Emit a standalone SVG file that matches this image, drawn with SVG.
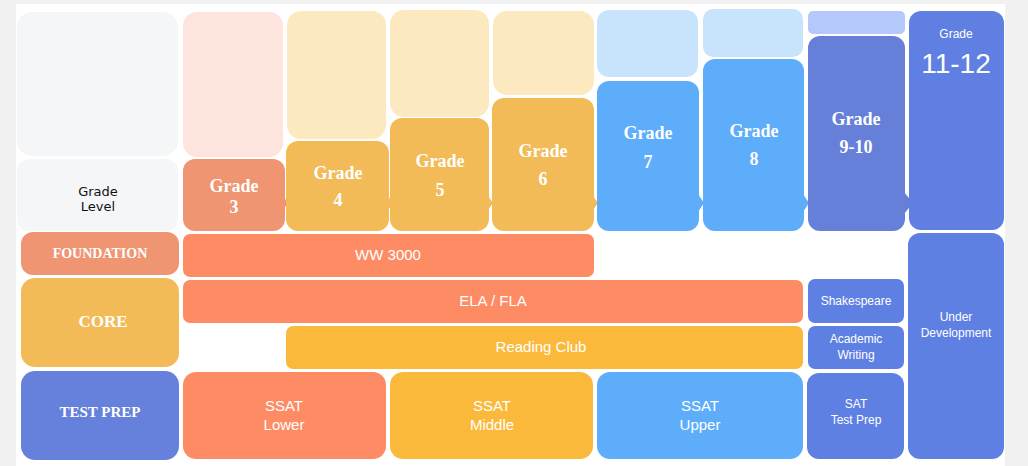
<svg xmlns="http://www.w3.org/2000/svg" width="1028" height="466" viewBox="0 0 1028 466">
<style>
.serif{font-family:"Liberation Serif","Times New Roman",serif;font-weight:bold;fill:#fff;text-anchor:middle}
.sans{font-family:"Liberation Sans",Arial,sans-serif;fill:#fff;text-anchor:middle}
.gl{font-family:"DejaVu Sans","Liberation Sans",sans-serif;fill:#111;text-anchor:middle;font-size:13px}
.g{font-size:18px}
.lbl{font-size:15px}
.sm{font-size:12px}
.cat{font-size:14px}
</style>
<rect x="0" y="0" width="1028" height="466" fill="#f1f1f1"/>
<rect x="16" y="4" width="989" height="462" fill="#ffffff"/>

<g id="grade-level">
<rect x="17" y="12" width="161" height="144" rx="15" fill="#f5f6f8"/>
<rect x="17" y="159" width="161" height="72" rx="12" fill="#f5f6f8"/>
<text class="gl" x="98" y="196">Grade</text>
<text class="gl" x="98" y="211">Level</text>
</g>

<g id="grade-3">
<rect x="183" y="12" width="100" height="145" rx="14" fill="#fde4dc"/>
<rect x="183" y="159" width="102" height="72" rx="12" fill="#f09572"/>
<polygon points="284,198 289,203 284,208" fill="#f09572"/>
<text class="serif g" x="234" y="192">Grade</text>
<text class="serif g" x="234" y="213">3</text>
</g>

<g id="grade-4">
<rect x="287" y="11" width="99" height="128" rx="14" fill="#fde9c0"/>
<rect x="286" y="141" width="103" height="90" rx="12" fill="#f2bb58"/>
<polygon points="388,196 393,203 388,210" fill="#f2bb58"/>
<text class="serif g" x="338" y="179">Grade</text>
<text class="serif g" x="338" y="206">4</text>
</g>

<g id="grade-5">
<rect x="390" y="10" width="99" height="107" rx="14" fill="#fde9c0"/>
<rect x="390" y="118" width="99" height="113" rx="12" fill="#f2bb58"/>
<polygon points="488,196 493,203 488,210" fill="#f2bb58"/>
<text class="serif g" x="440" y="167">Grade</text>
<text class="serif g" x="440" y="196">5</text>
</g>

<g id="grade-6">
<rect x="493" y="11" width="101" height="84" rx="14" fill="#fde9c0"/>
<rect x="492" y="98" width="102" height="133" rx="12" fill="#f2bb58"/>
<polygon points="593,196 598,203 593,210" fill="#f2bb58"/>
<text class="serif g" x="543" y="157">Grade</text>
<text class="serif g" x="543" y="185">6</text>
</g>

<g id="grade-7">
<rect x="597" y="10" width="101" height="67" rx="12" fill="#c8e3fc"/>
<rect x="597" y="81" width="102" height="150" rx="12" fill="#5eadfa"/>
<polygon points="698,194 704,203 698,212" fill="#5eadfa"/>
<text class="serif g" x="648" y="139">Grade</text>
<text class="serif g" x="648" y="168">7</text>
</g>

<g id="grade-8">
<rect x="703" y="9" width="100" height="48" rx="10" fill="#c8e3fc"/>
<rect x="703" y="59" width="101" height="172" rx="12" fill="#5eadfa"/>
<polygon points="803,194 809,203 803,212" fill="#5eadfa"/>
<text class="serif g" x="754" y="137">Grade</text>
<text class="serif g" x="754" y="165">8</text>
</g>

<g id="grade-9-10">
<rect x="808" y="11" width="97" height="23" rx="5" fill="#b4c8fb"/>
<rect x="808" y="36" width="97" height="195" rx="12" fill="#6680da"/>
<polygon points="904,192 913,203 904,214" fill="#6680da"/>
<text class="serif g" x="856" y="125">Grade</text>
<text class="serif g" x="856" y="153">9-10</text>
</g>

<g id="grade-11-12">
<rect x="909" y="11" width="95" height="219" rx="12" fill="#5f7fe2"/>
<text class="sans" x="956" y="38" font-size="12">Grade</text>
<text class="sans" x="956" y="73" font-size="28">11-12</text>
</g>

<g id="foundation">
<rect x="21" y="232" width="158" height="43" rx="12" fill="#f09572"/>
<text class="serif cat" x="100" y="258">FOUNDATION</text>
</g>

<g id="core">
<rect x="21" y="278" width="158" height="89" rx="14" fill="#f2bb58"/>
<text class="serif" x="103" y="327" font-size="17">CORE</text>
</g>

<g id="test-prep">
<rect x="21" y="371" width="158" height="89" rx="14" fill="#6681db"/>
<text class="serif" x="100" y="417" font-size="15">TEST PREP</text>
</g>

<g id="ww3000">
<rect x="183" y="234" width="411" height="43" rx="7" fill="#fd8c65"/>
<text class="sans lbl" x="388" y="260">WW 3000</text>
</g>

<g id="ela-fla">
<rect x="183" y="280" width="620" height="43" rx="7" fill="#fd8c65"/>
<text class="sans lbl" x="493" y="306">ELA / FLA</text>
</g>

<g id="reading-club">
<rect x="286" y="326" width="517" height="43" rx="7" fill="#fbb93b"/>
<text class="sans lbl" x="541" y="352">Reading Club</text>
</g>

<g id="ssat-lower">
<rect x="183" y="372" width="203" height="87" rx="13" fill="#fd8c65"/>
<text class="sans lbl" x="284" y="411">SSAT</text>
<text class="sans lbl" x="284" y="430">Lower</text>
</g>

<g id="ssat-middle">
<rect x="390" y="372" width="203" height="87" rx="13" fill="#fbb93b"/>
<text class="sans lbl" x="492" y="411">SSAT</text>
<text class="sans lbl" x="492" y="430">Middle</text>
</g>

<g id="ssat-upper">
<rect x="597" y="372" width="206" height="87" rx="13" fill="#5eadfb"/>
<text class="sans lbl" x="700" y="411">SSAT</text>
<text class="sans lbl" x="700" y="430">Upper</text>
</g>

<g id="shakespeare">
<rect x="808" y="279" width="96" height="44" rx="7" fill="#5f80e3"/>
<text class="sans sm" x="856" y="305">Shakespeare</text>
</g>

<g id="academic-writing">
<rect x="808" y="326" width="96" height="43" rx="7" fill="#5f80e3"/>
<text class="sans sm" x="856" y="343">Academic</text>
<text class="sans sm" x="856" y="359">Writing</text>
</g>

<g id="sat-test-prep">
<rect x="807" y="373" width="97" height="86" rx="12" fill="#5f80e3"/>
<text class="sans sm" x="856" y="408">SAT</text>
<text class="sans sm" x="856" y="424">Test Prep</text>
</g>

<g id="under-development">
<rect x="908" y="233" width="96" height="226" rx="12" fill="#5f80e3"/>
<text class="sans sm" x="956" y="321">Under</text>
<text class="sans sm" x="956" y="337">Development</text>
</g>

<g id="connectors"></g>
</svg>
